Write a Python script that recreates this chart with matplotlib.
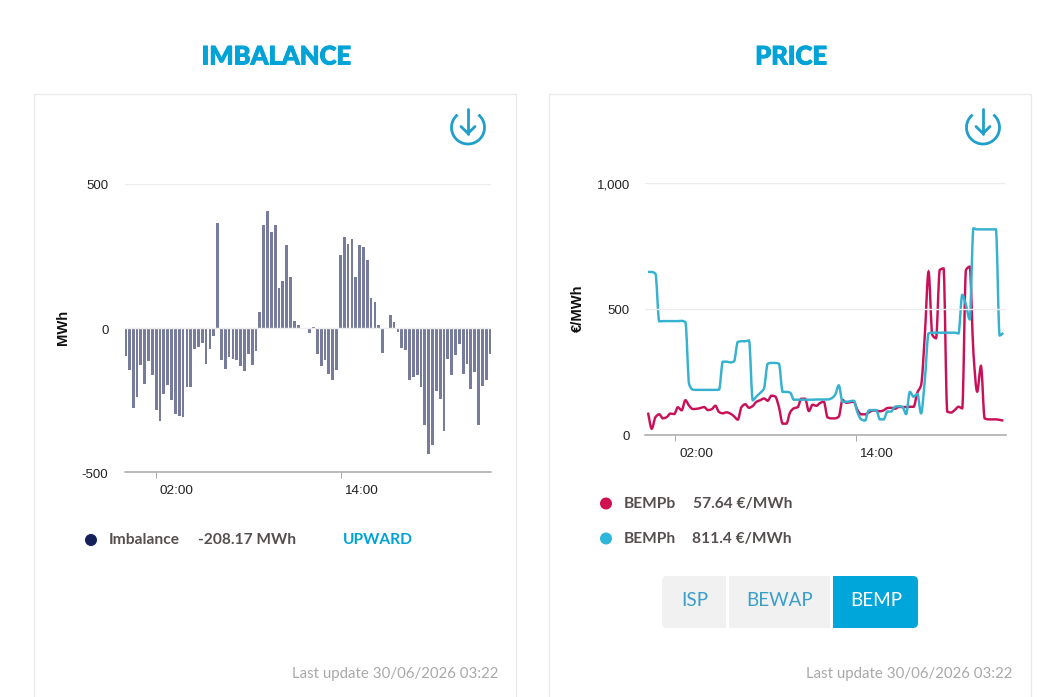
import numpy as np
import matplotlib
matplotlib.use("Agg")
import matplotlib.pyplot as plt
import matplotlib.patheffects as pe
from matplotlib.path import Path
from matplotlib.patches import PathPatch, Rectangle, Circle, Arc, FancyBboxPatch

W, H = 1051, 697

# imbalance per quarter hour, MWh
imbalance = [-98, -146, -279, -241, -129, -194, -116, -163, -284, -323, -228, -199,
             -249, -298, -307, -310, -207, -207, -74, -68, -52, -125, -75, -29,
             362, -111, -143, -100, -107, -111, -134, -151, -91, -129, -82, 55,
             356, 403, 331, 356, 137, 163, 287, 176, 25, 8, -6, 0,
             -17, 4, -90, -132, -111, -159, -180, -146, 253, 314, 292, 309,
             176, 287, 279, 236, 102, 90, 11, -86, -3, 43, 21, -14,
             -69, -77, -180, -169, -163, -207, -336, -439, -405, -220, -246, -357,
             -108, -163, -94, -56, -159, -125, -211, -155, -336, -202, -180, -91]

bemp_b = [89, 25, 71, 82, 66, 71, 85, 83, 110, 98, 138, 116,
          103, 104, 107, 111, 99, 102, 116, 91, 86, 90, 85, 74,
          61, 111, 122, 108, 115, 132, 138, 145, 136, 156, 153, 111,
          45, 45, 90, 106, 110, 144, 144, 95, 120, 116, 127, 132,
          70, 66, 66, 73, 139, 128, 130, 132, 99, 82, 82, 89,
          97, 97, 94, 98, 107, 108, 104, 111, 111, 111, 112, 112,
          168, 198, 397, 648, 397, 384, 655, 661, 93, 89, 99, 112,
          106, 655, 668, 324, 172, 274, 66, 62, 62, 62, 60, 57]

bemp_h = [647, 647, 640, 451, 452, 452, 452, 452, 452, 453, 448, 201,
          180, 179, 179, 179, 179, 179, 179, 180, 291, 291, 288, 292,
          369, 372, 372, 375, 138, 153, 167, 184, 283, 286, 286, 283,
          171, 171, 168, 140, 140, 140, 140, 140, 140, 141, 141, 141,
          141, 145, 159, 197, 132, 132, 134, 136, 89, 62, 57, 97,
          99, 99, 62, 62, 93, 93, 112, 114, 112, 83, 171, 152,
          163, 86, 218, 403, 406, 406, 406, 406, 406, 406, 406, 403,
          556, 516, 459, 820, 816, 816, 816, 816, 816, 816, 395, 405]

imb_ticks = ["02:00", "14:00"]
imb_yticks = [-500, 0, 500]
price_yticks = [0, 500, 1000]
price_ylabels = ["0", "500", "1,000"]

TITLE = "#00a3d7"
GREY_TXT = "#55504f"
GRID = "#ececec"
AXIS = "#a8a8a8"
ARIAL = "Liberation Sans"


def px_axes(fig, left, top, right, bottom):
    return fig.add_axes([left / W, 1 - bottom / H, (right - left) / W, (bottom - top) / H])


def smooth_path(x, y):
    # monotone cubic through the points, written as bezier segments
    x = np.asarray(x, float)
    y = np.asarray(y, float)
    h = np.diff(x)
    s = np.diff(y) / h
    m = np.zeros(len(x))
    for i in range(1, len(x) - 1):
        if s[i - 1] * s[i] > 0:
            m[i] = 2 * s[i - 1] * s[i] / (s[i - 1] + s[i])
    m[0], m[-1] = s[0], s[-1]
    verts = [(x[0], y[0])]
    codes = [Path.MOVETO]
    for i in range(len(h)):
        verts += [(x[i] + h[i] / 3, y[i] + m[i] * h[i] / 3),
                  (x[i + 1] - h[i] / 3, y[i + 1] - m[i + 1] * h[i] / 3),
                  (x[i + 1], y[i + 1])]
        codes += [Path.CURVE4] * 3
    return Path(verts, codes)


def style_axes(ax, ticks):
    for name in ["top", "left", "right"]:
        ax.spines[name].set_visible(False)
    ax.spines["bottom"].set_color(AXIS)
    ax.spines["bottom"].set_linewidth(1.1)
    ax.set_xticks(ticks)
    ax.set_xticklabels([])
    ax.tick_params(axis="x", length=4.5, width=0.7, color=AXIS)
    ax.tick_params(axis="y", length=0)
    ax.set_yticklabels([])
    ax.patch.set_alpha(0)


fig = plt.figure(figsize=(W / 100, H / 100), dpi=100, facecolor="white")

# page layer in pixel coordinates
bg = fig.add_axes([0, 0, 1, 1], zorder=0)
bg.set_xlim(0, W)
bg.set_ylim(H, 0)
bg.axis("off")

for left in [34, 549]:
    bg.add_patch(Rectangle((left, 94), 482, 640, fill=False, ec="#e9e9e9", lw=0.9))

for cx, lab in [(276, "IMBALANCE"), (791, "PRICE")]:
    t = bg.text(cx, 56.5, lab, family="Lato", weight="black", fontsize=18.4, color=TITLE, ha="center", va="center")
    t.set_path_effects([pe.withStroke(linewidth=0.7, foreground=TITLE)])

# download icons
for cx, cy in [(468, 127.5), (983, 127.5)]:
    bg.add_patch(Arc((cx, cy), 33, 33, theta1=-51, theta2=231, color="#1f9fca", lw=2.0))
    bg.plot([cx, cx], [cy - 19, cy + 6], color="#1f9fca", lw=2.0, solid_capstyle="round")
    bg.plot([cx - 7, cx, cx + 7], [cy - 1, cy + 6, cy - 1], color="#1f9fca", lw=2.0, solid_capstyle="round")

# imbalance panel
ax1 = px_axes(fig, 125, 183.5, 491, 472)
ax1.set_zorder(1)
x1 = np.arange(len(imbalance))
ax1.axhline(500, color=GRID, lw=1)
ax1.axhline(0, color=GRID, lw=1)
ax1.bar(x1, imbalance, width=0.72, color="#777b9c")
ax1.set_xlim(-0.13, 95.25)
ax1.set_ylim(-500, 500)
ax1.set_yticks(imb_yticks)
style_axes(ax1, [7.82, 56.03])

for lab, y in zip(["-500", "0", "500"], [475, 331, 186]):
    bg.text(108.5, y, lab, family=ARIAL, fontsize=9.5, color="#222222", ha="right", va="center")
bg.text(176, 491, imb_ticks[0], family=ARIAL, fontsize=9.7, color="#222222", ha="center", va="center")
bg.text(361, 491, imb_ticks[1], family=ARIAL, fontsize=9.7, color="#222222", ha="center", va="center")
bg.text(62.5, 327.5, "MWh", family=ARIAL, weight="bold", fontsize=10.6, color="#111111", rotation=90, ha="center", va="center")

# price panel
ax2 = px_axes(fig, 645, 183, 1006, 435)
ax2.set_zorder(1)
x2 = np.arange(len(bemp_b))
ax2.axhline(1000, color=GRID, lw=1)
ax2.axhline(500, color=GRID, lw=1)
ax2.add_patch(PathPatch(smooth_path(x2, bemp_b), fill=False, ec="#c9115a", lw=1.75))
ax2.add_patch(PathPatch(smooth_path(x2, bemp_h), fill=False, ec="#36b1d0", lw=1.75))
ax2.set_xlim(-0.8, 95.7)
ax2.set_ylim(0, 1000)
ax2.set_yticks(price_yticks)
style_axes(ax2, [7.35, 55.5])

for lab, y in zip(price_ylabels, [437, 311, 185]):
    bg.text(630, y, lab, family=ARIAL, fontsize=9.5, color="#222222", ha="right", va="center")
bg.text(696, 454, imb_ticks[0], family=ARIAL, fontsize=9.7, color="#222222", ha="center", va="center")
bg.text(876, 454, imb_ticks[1], family=ARIAL, fontsize=9.7, color="#222222", ha="center", va="center")
bg.text(578, 308.5, "€/MWh", family=ARIAL, weight="bold", fontsize=10.6, color="#111111", rotation=90, ha="center", va="center")

# legends
legend_font = dict(family="Lato", weight="bold", fontsize=11.2, va="center")
bg.add_patch(Circle((91, 540), 5.3, color="#14205c"))
bg.text(109, 540.5, "Imbalance", color=GREY_TXT, **legend_font)
bg.text(198, 540.5, "-208.17 MWh", color=GREY_TXT, **legend_font)
bg.text(343, 540.5, "UPWARD", color=TITLE, **legend_font)

bg.add_patch(Circle((606, 503.5), 5.3, color="#d0104f"))
bg.text(624, 504, "BEMPb", color=GREY_TXT, **legend_font)
bg.text(693, 504, "57.64 €/MWh", color=GREY_TXT, **legend_font)
bg.add_patch(Circle((606, 538.5), 5.3, color="#2eb6da"))
bg.text(624, 539, "BEMPh", color=GREY_TXT, **legend_font)
bg.text(692, 539, "811.4 €/MWh", color=GREY_TXT, **legend_font)

# button group
bg.add_patch(FancyBboxPatch((662, 576), 40, 52, boxstyle="round,pad=0,rounding_size=5", fc="#f1f1f2", ec="none"))
bg.add_patch(Rectangle((670, 576), 56, 52, fc="#f1f1f2", ec="none"))
bg.add_patch(Rectangle((729, 576), 101, 52, fc="#f1f1f2", ec="none"))
bg.add_patch(FancyBboxPatch((870, 576), 48, 52, boxstyle="round,pad=0,rounding_size=5", fc="#00a5da", ec="none"))
bg.add_patch(Rectangle((833, 576), 50, 52, fc="#00a5da", ec="none"))
for lab, cx, col in [("ISP", 694.5, "#3b9fc8"), ("BEWAP", 780, "#3b9fc8"), ("BEMP", 876, "white")]:
    bg.text(cx, 601, lab, family="Lato", fontsize=13.6, color=col, ha="center", va="center")

# footers
for right in [498, 1012]:
    bg.text(right, 674, "Last update 30/06/2026 03:22", family="Lato", fontsize=10.8, color="#a9a9a9", ha="right", va="center")

fig.savefig("out.png", dpi=100)
